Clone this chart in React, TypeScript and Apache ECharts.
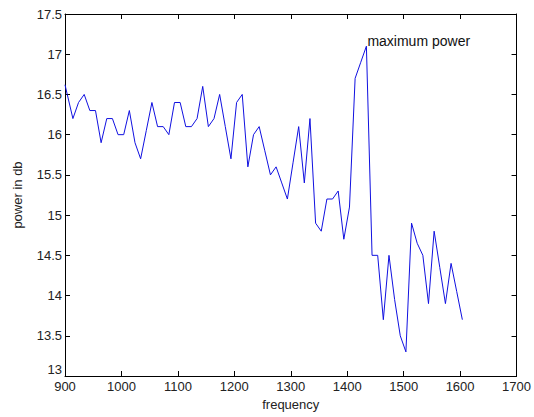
import React, { useEffect, useRef } from "react";
import * as echarts from "echarts";

const frequencies = [
  900, 904, 914, 924, 934, 944, 954, 964, 974, 984,
  994, 1004, 1014, 1024, 1034, 1044, 1054, 1064, 1074, 1084,
  1094, 1104, 1114, 1124, 1134, 1144, 1154, 1164, 1174, 1184,
  1194, 1204, 1214, 1224, 1234, 1244, 1254, 1264, 1274, 1284,
  1294, 1304, 1314, 1324, 1334, 1344, 1354, 1364, 1374, 1384,
  1394, 1404, 1414, 1424, 1434, 1444, 1454, 1464, 1474, 1484,
  1494, 1504, 1514, 1524, 1534, 1544, 1554, 1564, 1574, 1584,
  1594, 1604,
];

const powerDb = [
  16.62, 16.5, 16.2, 16.4, 16.5, 16.3, 16.3, 15.9, 16.2, 16.2,
  16.0, 16.0, 16.3, 15.9, 15.7, 16.05, 16.4, 16.1, 16.1, 16.0,
  16.4, 16.4, 16.1, 16.1, 16.2, 16.6, 16.1, 16.2, 16.5, 16.1,
  15.7, 16.4, 16.5, 15.6, 16.0, 16.1, 15.8, 15.5, 15.6, 15.4,
  15.2, 15.65, 16.1, 15.4, 16.2, 14.9, 14.8, 15.2, 15.2, 15.3,
  14.7, 15.1, 16.7, 16.9, 17.1, 14.5, 14.5, 13.7, 14.5, 13.95,
  13.5, 13.3, 14.9, 14.65, 14.5, 13.9, 14.8, 14.35, 13.9, 14.4,
  14.05, 13.7,
];

const annotation = { freq: 1434, value: 17.1, text: "maximum power" };

const FONT = "'Liberation Sans', Arial, sans-serif";

export default function App() {
  const ref = useRef<HTMLDivElement>(null);

  useEffect(() => {
    if (!ref.current) return;
    const chart = echarts.init(ref.current, undefined, { renderer: "svg" });
    const axisLine = { show: true, lineStyle: { color: "#000", width: 1 } };
    const axisTick = { show: true, inside: true, length: 5, lineStyle: { color: "#000" } };
    const labelStyle = { color: "#222", fontSize: 13, fontFamily: FONT };
    chart.setOption({
      animation: false,
      backgroundColor: "#fff",
      grid: { left: 65, right: 13, top: 14, bottom: 41, containLabel: false },
      xAxis: [
        {
          type: "value",
          position: "bottom",
          min: 900,
          max: 1700,
          interval: 100,
          axisLine,
          axisTick,
          splitLine: { show: false },
          axisLabel: { ...labelStyle, margin: 4, formatter: (v: number) => String(v) },
          name: "frequency",
          nameLocation: "middle",
          nameGap: 22,
          nameTextStyle: { ...labelStyle },
        },
        {
          type: "value",
          position: "top",
          min: 900,
          max: 1700,
          interval: 100,
          axisLine,
          axisTick,
          splitLine: { show: false },
          axisLabel: { show: false },
        },
      ],
      yAxis: [
        {
          type: "value",
          position: "left",
          min: 13,
          max: 17.5,
          interval: 0.5,
          axisLine,
          axisTick,
          splitLine: { show: false },
          axisLabel: { ...labelStyle, margin: 3, verticalAlignMinLabel: "bottom" },
          name: "power in db",
          nameLocation: "middle",
          nameGap: 41,
          nameRotate: 90,
          nameTextStyle: { ...labelStyle },
        },
        {
          type: "value",
          position: "right",
          min: 13,
          max: 17.5,
          interval: 0.5,
          axisLine,
          axisTick,
          splitLine: { show: false },
          axisLabel: { show: false },
        },
      ],
      series: [
        {
          type: "line",
          xAxisIndex: 0,
          yAxisIndex: 0,
          data: frequencies.map((f, i) => [f, powerDb[i]]),
          showSymbol: false,
          symbol: "none",
          clip: true,
          lineStyle: { color: "#1010e0", width: 1 },
          markPoint: {
            symbol: "circle",
            symbolSize: 0,
            data: [
              {
                coord: [annotation.freq, annotation.value],
                label: {
                  show: true,
                  position: "right",
                  distance: 1,
                  offset: [0, -5],
                  formatter: annotation.text,
                  color: "#111",
                  fontSize: 14,
                  fontFamily: FONT,
                },
              },
            ],
          },
        },
      ],
    });
    return () => chart.dispose();
  }, []);

  return (
    <div
      ref={ref}
      style={{ position: "fixed", left: 0, top: 0, width: 534, height: 417 }}
    />
  );
}
